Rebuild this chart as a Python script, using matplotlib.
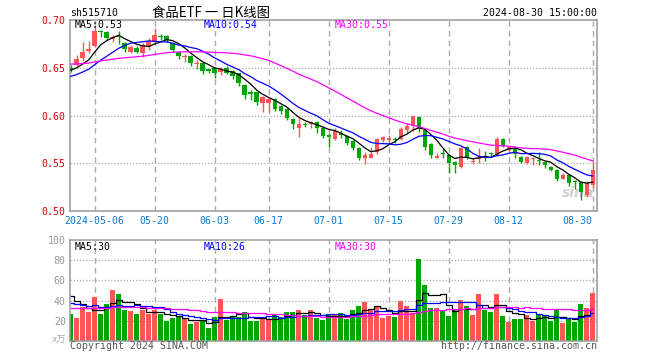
import numpy as np
import pandas as pd
import matplotlib
matplotlib.use('Agg')
import matplotlib.pyplot as plt

# ---------------- data ----------------
code = "sh515710"
title = "食品ETF 一 日K线图"
stamp = "2024-08-30 15:00:00"
holidays = ["2024-05-01", "2024-05-02", "2024-05-03", "2024-06-10"]
dates = [d for d in pd.bdate_range("2024-04-25", "2024-08-30").strftime("%Y-%m-%d") if d not in holidays]

opens = [0.650, 0.653, 0.660, 0.668, 0.673, 0.689, 0.687, 0.680, 0.683, 0.676,
         0.667, 0.671, 0.665, 0.672, 0.677, 0.683, 0.683, 0.676, 0.667, 0.661,
         0.662, 0.654, 0.655, 0.648, 0.650, 0.646, 0.650, 0.647, 0.644, 0.632,
         0.624, 0.625, 0.613, 0.613, 0.617, 0.610, 0.607, 0.596, 0.587, 0.591,
         0.591, 0.593, 0.587, 0.579, 0.575, 0.582, 0.579, 0.573, 0.566, 0.555,
         0.556, 0.562, 0.574, 0.574, 0.575, 0.575, 0.585, 0.589, 0.598, 0.585,
         0.570, 0.556, 0.561, 0.559, 0.551, 0.546, 0.567, 0.551, 0.554, 0.556,
         0.561, 0.559, 0.575, 0.564, 0.566, 0.557, 0.550, 0.554, 0.553, 0.551,
         0.546, 0.543, 0.534, 0.538, 0.531, 0.530, 0.517, 0.527]
highs = [0.653, 0.663, 0.677, 0.678, 0.693, 0.690, 0.689, 0.684, 0.688, 0.677,
         0.674, 0.673, 0.676, 0.681, 0.692, 0.685, 0.684, 0.677, 0.668, 0.664,
         0.663, 0.658, 0.656, 0.649, 0.651, 0.651, 0.652, 0.648, 0.645, 0.633,
         0.627, 0.626, 0.620, 0.618, 0.618, 0.611, 0.608, 0.597, 0.597, 0.593,
         0.594, 0.594, 0.588, 0.582, 0.587, 0.585, 0.580, 0.574, 0.567, 0.562,
         0.567, 0.576, 0.579, 0.580, 0.577, 0.588, 0.592, 0.600, 0.599, 0.586,
         0.571, 0.561, 0.566, 0.560, 0.552, 0.568, 0.568, 0.556, 0.566, 0.563,
         0.562, 0.578, 0.576, 0.568, 0.567, 0.558, 0.558, 0.556, 0.562, 0.552,
         0.547, 0.544, 0.540, 0.539, 0.532, 0.531, 0.531, 0.551]
lows = [0.646, 0.652, 0.657, 0.665, 0.672, 0.682, 0.679, 0.677, 0.675, 0.667,
        0.665, 0.665, 0.661, 0.669, 0.676, 0.679, 0.677, 0.666, 0.659, 0.656,
        0.652, 0.649, 0.643, 0.644, 0.639, 0.642, 0.643, 0.638, 0.631, 0.617,
        0.616, 0.611, 0.604, 0.604, 0.605, 0.602, 0.595, 0.586, 0.577, 0.588,
        0.587, 0.582, 0.576, 0.567, 0.574, 0.576, 0.569, 0.564, 0.553, 0.549,
        0.555, 0.560, 0.572, 0.571, 0.571, 0.574, 0.582, 0.584, 0.583, 0.564,
        0.556, 0.555, 0.556, 0.540, 0.540, 0.545, 0.554, 0.549, 0.550, 0.552,
        0.557, 0.558, 0.567, 0.563, 0.555, 0.550, 0.549, 0.548, 0.548, 0.545,
        0.542, 0.531, 0.533, 0.526, 0.523, 0.512, 0.515, 0.524]
closes = [0.649, 0.659, 0.667, 0.669, 0.688, 0.687, 0.681, 0.682, 0.682, 0.670,
          0.672, 0.667, 0.674, 0.678, 0.684, 0.682, 0.679, 0.669, 0.662, 0.662,
          0.655, 0.655, 0.647, 0.647, 0.645, 0.649, 0.645, 0.641, 0.634, 0.621,
          0.623, 0.614, 0.619, 0.617, 0.607, 0.605, 0.597, 0.591, 0.591, 0.590,
          0.593, 0.587, 0.579, 0.578, 0.584, 0.580, 0.571, 0.566, 0.555, 0.559,
          0.560, 0.575, 0.577, 0.576, 0.574, 0.586, 0.589, 0.599, 0.587, 0.567,
          0.559, 0.558, 0.560, 0.550, 0.548, 0.566, 0.557, 0.552, 0.556, 0.555,
          0.560, 0.575, 0.568, 0.567, 0.560, 0.551, 0.557, 0.555, 0.552, 0.548,
          0.543, 0.534, 0.538, 0.529, 0.530, 0.520, 0.529, 0.543]
volumes = [26.7, 22.7, 34.0, 28.3, 44.0, 26.7, 36.7, 50.7, 46.7, 30.7,
           29.7, 26.7, 30.7, 26.7, 30.7, 26.7, 20.0, 22.7, 24.3, 21.7,
           16.7, 19.0, 20.0, 12.7, 24.0, 41.7, 20.7, 24.0, 24.0, 28.3,
           20.0, 20.0, 22.3, 20.7, 26.0, 24.0, 28.3, 28.3, 30.7, 26.0,
           30.7, 22.3, 20.7, 25.7, 25.7, 28.0, 21.7, 30.7, 34.7, 39.0,
           31.7, 34.7, 23.0, 25.0, 24.0, 39.7, 34.7, 26.3, 80.7, 55.7,
           32.7, 32.7, 30.0, 24.7, 30.7, 40.7, 34.7, 25.7, 46.7, 30.7,
           28.7, 46.7, 24.7, 18.7, 21.7, 21.7, 25.7, 19.7, 25.7, 24.7,
           19.7, 30.7, 17.7, 21.7, 18.7, 36.7, 32.7, 47.7]
vol_colors_up = [c >= o for o, c in zip(opens, closes)]

# moving-average values at the left edge of the window
price_ma_start = {5: 0.6476, 10: 0.6410, 30: 0.6538}
vol_ma_start = {5: 45.0, 10: 38.0, 30: 33.0}
price_ma_labels = ["MA5:0.53", "MA10:0.54", "MA30:0.55"]
vol_ma_labels = ["MA5:30", "MA10:26", "MA30:30"]

tick_dates = ["2024-05-06", "2024-05-20", "2024-06-03", "2024-06-17", "2024-07-01",
              "2024-07-15", "2024-07-29", "2024-08-12", "2024-08-30"]
tick_labels = ["2024-05-06", "05-20", "06-03", "06-17", "07-01", "07-15", "07-29", "08-12", "08-30"]
price_ticks = [0.50, 0.55, 0.60, 0.65, 0.70]
vol_ticks = [20, 40, 60, 80, 100]

# ---------------- style ----------------
RED = "#ff5555"
GREEN = "#00a600"
MA_COLORS = {5: "black", 10: "#0000ff", 30: "#ff00ff"}
GRID = "#aaaaaa"
SPINE = "#999999"
MONO = "DejaVu Sans Mono"
FS = 7.1


def ma(vals, n, start):
    vals = np.asarray(vals, dtype=float)
    p = (n * start - vals[0]) / (n - 1)
    ext = np.concatenate([np.full(n - 1, p), vals])
    return np.convolve(ext, np.ones(n) / n, mode="valid")


W, H = 660, 360
fig = plt.figure(figsize=(W / 100, H / 100), dpi=100)


def fx(x):
    return x / W


def fy(y):
    return 1 - y / H


L, R = 70, 597
axp = fig.add_axes([fx(L), fy(211), (R - L) / W, (211 - 20) / H])
axv = fig.add_axes([fx(L), fy(341), (R - L) / W, (341 - 240) / H])

n = len(closes)
x = np.arange(n)
tick_idx = [dates.index(d) for d in tick_dates]

for ax in (axp, axv):
    ax.set_xlim(-0.12, n - 0.3)
    for s in ax.spines.values():
        s.set_color(SPINE)
        s.set_linewidth(1.1)
    ax.tick_params(length=0)
    ax.set_xticks([])
    for ti in tick_idx:
        ax.axvline(ti, color=GRID, lw=1.0, ls=(0, (4, 3)), zorder=0)

# price panel
axp.set_ylim(price_ticks[0], price_ticks[-1])
for t in price_ticks[1:-1]:
    axp.axhline(t, color=GRID, lw=0.9, ls=(0, (1, 1.5)), zorder=0)
axp.set_yticks(price_ticks)
axp.set_yticklabels([f"{t:.2f}" for t in price_ticks], color="#e00000",
                    fontfamily=MONO, fontsize=FS)
axp.tick_params(axis="y", pad=3)

cols = [RED if up else GREEN for up in vol_colors_up]
axp.vlines(x, lows, highs, colors=cols, lw=1.0, zorder=2)
body_b = np.minimum(opens, closes)
body_h = np.maximum(np.abs(np.array(closes) - np.array(opens)), 0.0012)
axp.bar(x, body_h, bottom=body_b, width=0.75, color=cols, zorder=3, linewidth=0)

for k in (5, 10, 30):
    axp.plot(x, ma(closes, k, price_ma_start[k]), color=MA_COLORS[k], lw=0.9, zorder=4)

for lab, (k, xp) in zip(price_ma_labels, [(5, 75), (10, 204), (30, 334.5)]):
    fig.text(fx(xp), fy(25.5), lab, color=MA_COLORS[k], fontfamily=MONO,
             fontsize=FS, ha="left", va="center")

for ti, lab in zip(tick_idx, tick_labels):
    ha = "right" if ti == tick_idx[-1] else "center"
    axp.text(ti, -10 / 191, lab, transform=axp.get_xaxis_transform(), color="#0a78d2",
             fontfamily=MONO, fontsize=FS, ha=ha, va="center")

axp.text(0.995, 0.055, "sina", transform=axp.transAxes, color="#d0d0d0",
         fontsize=10, fontweight="bold", fontstyle="italic", ha="right", va="bottom", zorder=1)

# volume panel
axv.set_ylim(0, 100)
for t in vol_ticks[:-1]:
    axv.axhline(t, color=GRID, lw=0.9, ls=(0, (1, 1.5)), zorder=0)
axv.set_yticks(vol_ticks)
axv.set_yticklabels([str(t) for t in vol_ticks], color="#999999", fontfamily=MONO, fontsize=FS)
axv.tick_params(axis="y", pad=3)
axv.bar(x, volumes, width=0.8, color=cols, zorder=2, linewidth=0)
for k in (5, 10, 30):
    axv.plot(x, ma(volumes, k, vol_ma_start[k]), color=MA_COLORS[k], lw=0.9,
             drawstyle="steps-mid", zorder=4)
for lab, (k, xp) in zip(vol_ma_labels, [(5, 75), (10, 204), (30, 334.5)]):
    fig.text(fx(xp), fy(246.5), lab, color=MA_COLORS[k], fontfamily=MONO,
             fontsize=FS, ha="left", va="center")
fig.text(fx(66), fy(340), "x万", color="#aaaaaa", fontfamily=[MONO, "Noto Sans CJK SC"],
         fontsize=6.5, ha="right", va="center")

# header / footer
fig.text(fx(70), fy(13), code, fontfamily=MONO, fontsize=FS, ha="left", va="center")
fig.text(fx(210.5), fy(12.5), title, fontfamily=["Noto Sans CJK SC", "DejaVu Sans"],
         fontsize=9.6, ha="center", va="center")
fig.text(fx(597), fy(13), stamp, fontfamily=MONO, fontsize=FS, ha="right", va="center")
fig.text(fx(70), fy(346), "Copyright 2024 SINA.COM", color="#555555", fontfamily=MONO,
         fontsize=FS, ha="left", va="center")
fig.text(fx(597), fy(346), "http://finance.sina.com.cn", color="#555555", fontfamily=MONO,
         fontsize=FS, ha="right", va="center")

fig.savefig("out.png", dpi=100)
